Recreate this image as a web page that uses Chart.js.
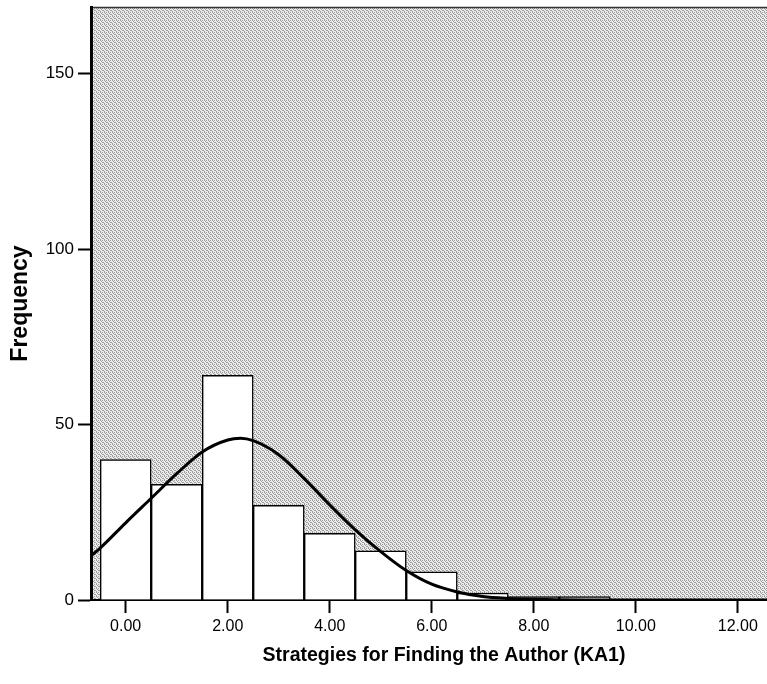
<!DOCTYPE html>
<html>
<head>
<meta charset="utf-8">
<script src="https://cdn.jsdelivr.net/npm/chart.js@4/dist/chart.umd.min.js"></script>
<style>
  html, body { margin: 0; padding: 0; background: #fff; overflow: hidden; }
  #wrap { position: relative; width: 797px; height: 684px; }
</style>
</head>
<body>
<div id="wrap"><canvas id="hist"></canvas></div>
<script>
// Histogram bins (centre of each unit-wide bin) and their counts
const binCenters = [0, 1, 2, 3, 4, 5, 6, 7, 8, 9];
const frequencies = [40, 33, 64, 27, 19, 14, 8, 2, 1, 1];

// Normal curve drawn over the histogram
const curveX = [-0.68, -0.5, 0, 0.5, 1, 1.5, 2, 2.25, 2.5, 3, 3.5, 4, 4.5, 5, 5.5, 6, 6.5, 7, 7.5, 8, 8.5, 9, 10, 13.2];
const curveY = [12.6, 14.8, 22, 29, 36, 42.2, 45.6, 46.1, 45.4, 41.4, 34.6, 27.1, 20, 13.8, 8.4, 4.5, 2.3, 1.0, 0.45, 0.2, 0.08, 0.02, 0, 0];

// Axis ticks
const xTicks = [0, 2, 4, 6, 8, 10, 12];
const yTicks = [0, 50, 100, 150];

const FONT = "'Liberation Sans', Arial, sans-serif";

// grey halftone fill for the plot area
const DOTS = [[0, 0], [2, 0], [1, 1], [3, 2], [0, 3], [2, 2]];
const makeStipple = () => {
  const c = document.createElement('canvas');
  c.width = 4; c.height = 4;
  const g = c.getContext('2d');
  g.fillStyle = '#ececec'; g.fillRect(0, 0, 4, 4);
  g.fillStyle = '#9c9c9c';
  DOTS.forEach(([px, py]) => g.fillRect(px, py, 1, 1));
  return g.createPattern(c, 'repeat');
};

const plotBackground = {
  id: 'plotBackground',
  beforeDraw(chart) {
    const { ctx, chartArea: a } = chart;
    ctx.save();
    ctx.fillStyle = makeStipple();
    ctx.fillRect(a.left, a.top, a.right - a.left, a.bottom - a.top);
    // frame line along the top
    ctx.strokeStyle = '#333';
    ctx.lineWidth = 1.5;
    ctx.beginPath();
    ctx.moveTo(a.left, a.top + 0.5);
    ctx.lineTo(a.right, a.top + 0.5);
    ctx.stroke();
    ctx.restore();
  }
};

new Chart(document.getElementById('hist'), {
  type: 'bar',
  data: {
    datasets: [{
      type: 'line',
      data: curveX.map((x, i) => ({ x, y: curveY[i] })),
      borderColor: '#000',
      borderWidth: 3,
      pointRadius: 0,
      cubicInterpolationMode: 'monotone',
      fill: false,
      order: 0
    }, {
      type: 'bar',
      data: binCenters.map((x, i) => ({ x, y: frequencies[i] })),
      backgroundColor: '#fff',
      borderColor: '#000',
      borderWidth: 1.5,
      barPercentage: 1,
      categoryPercentage: 1,
      order: 1
    }]
  },
  options: {
    responsive: true,
    maintainAspectRatio: false,
    animation: false,
    layout: { padding: { top: 7, left: 0, right: 0, bottom: 0 } },
    plugins: {
      legend: { display: false },
      tooltip: { enabled: false }
    },
    scales: {
      x: {
        type: 'linear',
        min: -0.68,
        max: 13.16,
        offset: false,
        afterFit: (s) => { s.height = 84; s.paddingLeft = 0; s.paddingRight = 0; },
        afterBuildTicks: (s) => { s.ticks = xTicks.map(v => ({ value: v })); },
        ticks: {
          color: '#000',
          font: { family: FONT, size: 16 },
          padding: 4,
          maxRotation: 0,
          callback: (v) => Number(v).toFixed(2)
        },
        grid: {
          display: true,
          drawOnChartArea: false,
          drawTicks: true,
          tickLength: 13,
          tickColor: '#000',
          tickWidth: 2,
          offset: false
        },
        border: { display: true, color: '#000', width: 2 },
        title: {
          display: true,
          text: 'Strategies for Finding the Author (KA1)',
          color: '#000',
          font: { family: FONT, size: 19.5, weight: 'bold' },
          padding: { top: 0, bottom: 17 }
        }
      },
      y: {
        min: 0,
        max: 169,
        afterFit: (s) => { s.width = 91; s.paddingTop = 0; s.paddingBottom = 0; },
        afterBuildTicks: (s) => { s.ticks = yTicks.map(v => ({ value: v })); },
        ticks: {
          color: '#000',
          font: { family: FONT, size: 17 },
          padding: 4
        },
        grid: {
          display: true,
          drawOnChartArea: false,
          drawTicks: true,
          tickLength: 13,
          tickColor: '#000',
          tickWidth: 2
        },
        border: { display: true, color: '#000', width: 3 },
        title: {
          display: true,
          text: 'Frequency',
          color: '#000',
          font: { family: FONT, size: 23, weight: 'bold' },
          padding: { top: 7, bottom: 0 }
        }
      }
    }
  },
  plugins: [plotBackground]
});
</script>
</body>
</html>
